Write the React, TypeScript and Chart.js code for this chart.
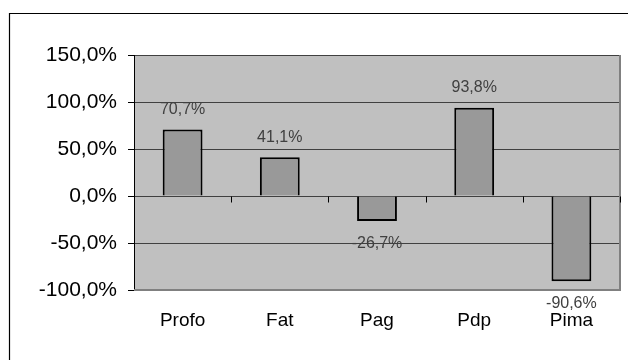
import React, { useEffect, useRef } from "react";
import { Chart, registerables } from "chart.js";

Chart.register(...registerables);

const categories = ["Profo", "Fat", "Pag", "Pdp", "Pima"];
const values = [70.7, 41.1, -26.7, 93.8, -90.6];
const yTicks = [-100, -50, 0, 50, 100, 150];

const fmtPct = (v: number) => v.toFixed(1).replace(".", ",") + "%";

// Grey plot background, frame, zero-line ticks and bar value labels
const decorations = {
  id: "decorations",
  beforeDraw(chart: any) {
    const { ctx, chartArea: a } = chart;
    ctx.save();
    ctx.fillStyle = "#c0c0c0";
    ctx.fillRect(a.left, a.top, a.right - a.left, a.bottom - a.top);
    ctx.restore();
  },
  afterDraw(chart: any) {
    const { ctx, chartArea: a, scales } = chart;
    const y0 = Math.round(scales.y.getPixelForValue(0)) + 0.5;
    ctx.save();
    // plot-area frame (right and bottom)
    ctx.strokeStyle = "#808080";
    ctx.lineWidth = 2;
    ctx.beginPath();
    ctx.moveTo(a.right, a.top);
    ctx.lineTo(a.right, a.bottom);
    ctx.lineTo(a.left, a.bottom);
    ctx.stroke();
    // category ticks hanging below the zero line
    ctx.strokeStyle = "#000";
    ctx.lineWidth = 1;
    const n = categories.length;
    const w = (a.right - a.left) / n;
    ctx.beginPath();
    for (let i = 1; i <= n; i++) {
      const x = Math.round(a.left + i * w) + 0.5;
      ctx.moveTo(x, y0);
      ctx.lineTo(x, y0 + 6);
    }
    ctx.stroke();
    // outer chart frame
    ctx.strokeStyle = "#000";
    ctx.lineWidth = 1.2;
    ctx.beginPath();
    ctx.moveTo(9.5, chart.height);
    ctx.lineTo(9.5, 13.5);
    ctx.lineTo(chart.width, 13.5);
    ctx.stroke();
    ctx.restore();
  },
  afterDatasetsDraw(chart: any) {
    const { ctx } = chart;
    const meta = chart.getDatasetMeta(0);
    ctx.save();
    ctx.fillStyle = "#404040";
    ctx.font = '16px "Liberation Sans", Arial, sans-serif';
    ctx.textAlign = "center";
    ctx.textBaseline = "middle";
    meta.data.forEach((bar: any, i: number) => {
      const v = values[i];
      const y = v >= 0 ? bar.y - 20 : bar.y + 22;
      ctx.fillText(fmtPct(v), bar.x, y);
    });
    ctx.restore();
  },
};

export default function App() {
  const ref = useRef<HTMLCanvasElement | null>(null);

  useEffect(() => {
    if (!ref.current) return;
    const chart = new Chart(ref.current, {
      type: "bar",
      data: {
        labels: categories,
        datasets: [
          {
            data: values,
            backgroundColor: "#999999",
            borderColor: "#000000",
            borderWidth: 2,
            categoryPercentage: 1,
            barPercentage: 0.41,
          },
        ],
      },
      options: {
        animation: false,
        responsive: false,
        layout: { padding: { top: 55, right: 8, left: 0, bottom: 0 } },
        plugins: { legend: { display: false }, tooltip: { enabled: false } },
        scales: {
          x: {
            grid: { display: false, drawTicks: false },
            border: { display: false },
            ticks: {
              color: "#000",
              padding: 19,
              font: { family: '"Liberation Sans", Arial, sans-serif', size: 19 },
            },
            afterFit: (s: any) => {
              s.height = 70;
            },
          },
          y: {
            min: -100,
            max: 150,
            afterBuildTicks: (s: any) => {
              s.ticks = yTicks.map((v) => ({ value: v }));
            },
            grid: {
              color: "#404040",
              lineWidth: 1,
              drawTicks: true,
              tickLength: 6,
              tickColor: "#000",
            },
            border: { display: true, color: "#000", width: 1 },
            ticks: {
              color: "#000",
              padding: 11,
              font: { family: '"Liberation Sans", Arial, sans-serif', size: 21 },
              callback: (v: any) => fmtPct(Number(v)),
            },
            afterFit: (s: any) => {
              s.width = 134;
            },
          },
        },
      },
      plugins: [decorations],
    });
    return () => chart.destroy();
  }, []);

  return (
    <div style={{ position: "fixed", left: 0, top: 0, width: 628, height: 360, background: "#fff" }}>
      <canvas ref={ref} width={628} height={360} style={{ display: "block" }} />
    </div>
  );
}
